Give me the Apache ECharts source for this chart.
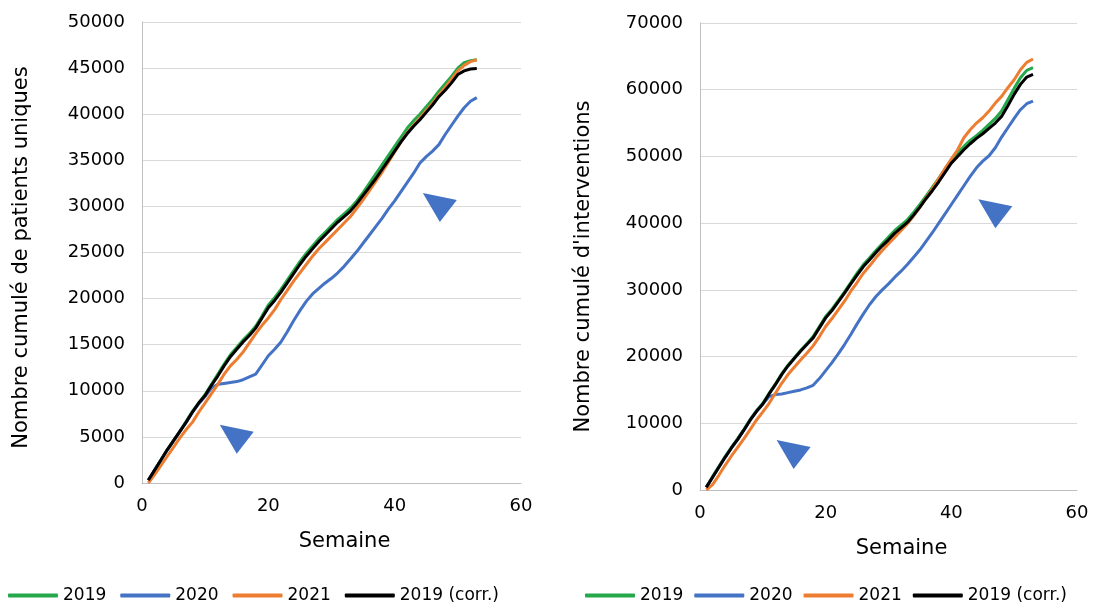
<!DOCTYPE html>
<html>
<head>
<meta charset="utf-8">
<script src="https://cdn.jsdelivr.net/npm/echarts@6/dist/echarts.min.js"></script>
<style>
  html, body { margin: 0; padding: 0; background: #fff; }
  #chart { width: 1110px; height: 602px; }
</style>
</head>
<body>
<div id="chart"></div>
<script>
// semaines 1..53
var weeks = [1,2,3,4,5,6,7,8,9,10,11,12,13,14,15,16,17,18,19,20,21,22,23,24,25,26,27,
  28,29,30,31,32,33,34,35,36,37,38,39,40,41,42,43,44,45,46,47,48,49,50,51,52,53];

var seriesNames = ['2019', '2020', '2021', '2019 (corr.)'];
var colors = ['#24a84a', '#4472c4', '#ed7d31', '#000000'];

// patients uniques (cumul)
var patients2019 = [300,1400,2500,3600,4600,5600,6700,7800,8700,9600,10700,11800,12900,13900,14700,
  15500,16200,17000,18100,19300,20100,21000,22000,23000,24000,24900,25700,26500,27200,27900,28600,
  29200,29800,30600,31500,32500,33500,34500,35500,36500,37500,38500,39300,40000,40800,41600,42500,
  43300,44100,45000,45600,45800,45900];
var patients2020 = [300,1400,2500,3600,4600,5600,6600,7700,8600,9400,10300,10700,10800,10900,11000,
  11200,11500,11800,12800,13800,14500,15300,16400,17600,18700,19700,20500,21100,21700,22200,22800,
  23500,24300,25100,26000,26900,27800,28700,29700,30600,31600,32600,33600,34700,35400,36000,36700,
  37800,38800,39800,40700,41400,41800];
var patients2021 = [0,900,1900,2900,3900,4900,5800,6600,7700,8700,9700,10700,11800,12700,13400,14200,
  15200,16200,17100,17900,18800,19900,20900,21900,22800,23700,24600,25400,26100,26800,27500,28200,
  28900,29800,30700,31700,32700,33700,34800,35900,37000,38000,38800,39600,40400,41200,42100,42900,
  43800,44700,45300,45700,45900];
var patients2019c = [300,1400,2500,3600,4600,5600,6600,7700,8700,9500,10600,11600,12700,13700,14500,
  15300,16000,16800,17900,19000,19800,20700,21700,22700,23700,24600,25400,26200,26900,27600,28300,
  28900,29500,30300,31200,32100,33000,34000,35000,36000,37000,37900,38700,39400,40200,41000,41900,
  42600,43400,44300,44700,44900,44950];

// interventions (cumul)
var interv2019 = [400,2000,3500,5000,6400,7700,9100,10600,11900,13000,14500,15900,17400,18700,19800,
  20900,21900,23000,24500,26000,27100,28400,29700,31100,32500,33800,34800,35900,36900,37900,38900,
  39700,40500,41600,42800,44100,45400,46700,48100,49500,50500,51500,52400,53100,53900,54800,55700,
  56800,58500,60200,61800,62900,63300];
var interv2020 = [400,1900,3400,4900,6300,7600,9000,10500,11800,12900,14000,14300,14400,14600,14800,
  15000,15300,15700,16700,17900,19100,20400,21800,23300,24900,26400,27800,29000,30000,30900,31900,
  32800,33800,34900,36000,37300,38600,40000,41400,42800,44200,45600,47000,48300,49300,50100,51300,
  52900,54300,55700,57000,57900,58300];
var interv2021 = [0,800,2200,3700,5100,6400,7700,9100,10500,11700,13000,14500,16000,17300,18400,
  19500,20500,21600,23000,24500,25700,27000,28300,29800,31100,32500,33600,34800,35900,36900,37900,
  38900,39900,41100,42400,43800,45200,46700,48200,49600,51000,52800,54000,55000,55800,56800,58000,
  59000,60300,61500,63000,64100,64600];
var interv2019c = [400,1900,3400,4900,6300,7600,9000,10500,11800,12900,14400,15800,17300,18600,19700,
  20800,21800,22800,24300,25800,26900,28200,29500,30900,32200,33500,34500,35600,36600,37500,38500,
  39300,40100,41200,42400,43700,44900,46200,47600,49000,50000,51000,51900,52700,53400,54200,55000,
  56000,57600,59300,60800,61900,62300];

// triangles (annotations) : [semaine, valeur]
var arrowsPatients = [[15, 4750], [47.15, 29880]];
var arrowsInterv = [[14.9, 5320], [47, 41400]];

var font = 'DejaVu Sans';
var triPath = 'path://M0,0 L34,7 L17,29 Z';

function pairs(vals) {
  return vals.map(function (v, i) { return [weeks[i], v]; });
}

function makeAxisX(idx) {
  return {
    type: 'value', gridIndex: idx, min: 0, max: 60, interval: 20,
    name: 'Semaine', nameLocation: 'middle', nameGap: 48,
    nameTextStyle: { fontFamily: font, fontSize: 21, color: '#000', padding: [0, 0, 0, 26] },
    axisLine: { show: true, lineStyle: { color: '#bfbfbf', width: 1 } },
    axisTick: { show: false },
    axisLabel: { fontFamily: font, fontSize: 18, color: '#000', margin: 14,
      formatter: function (v) { return String(v); } },
    splitLine: { show: false }
  };
}

function makeAxisY(idx, max, interval, name, gap, shift) {
  return {
    type: 'value', gridIndex: idx, min: 0, max: max, interval: interval,
    name: name, nameLocation: 'middle', nameGap: gap, nameRotate: 90,
    nameTextStyle: { fontFamily: font, fontSize: 21, color: '#000', padding: [0, shift, 0, 0] },
    axisLine: { show: true, lineStyle: { color: '#bfbfbf', width: 1 } },
    axisTick: { show: false },
    axisLabel: { fontFamily: font, fontSize: 18, color: '#000', margin: 17,
      formatter: function (v) { return String(v); } },
    splitLine: { show: true, lineStyle: { color: '#d9d9d9', width: 1 } }
  };
}

function makeSeries(name, color, vals, idx, arrows) {
  var s = {
    name: name, type: 'line', xAxisIndex: idx, yAxisIndex: idx,
    data: pairs(vals), showSymbol: false, symbol: 'none',
    lineStyle: { color: color, width: 3 },
    itemStyle: { color: color },
    animation: false
  };
  if (arrows) {
    s.markPoint = {
      symbol: triPath,
      symbolSize: [34, 29],
      label: { show: false },
      itemStyle: { color: '#4472c4' },
      data: arrows.map(function (a) { return { coord: a }; })
    };
  }
  return s;
}

var legendBase = {
  data: seriesNames,
  top: 582,
  itemWidth: 50,
  itemHeight: 4,
  itemGap: 14,
  icon: 'roundRect',
  textStyle: { fontFamily: font, fontSize: 17, color: '#000' }
};

var option = {
  animation: false,
  color: colors,
  grid: [
    { left: 142, right: 589, top: 22, bottom: 119 },
    { left: 700, right: 33, top: 23, bottom: 112 }
  ],
  legend: [
    Object.assign({}, legendBase, { left: 3 }),
    Object.assign({}, legendBase, { left: 580, itemGap: 11 })
  ],
  xAxis: [makeAxisX(0), makeAxisX(1)],
  yAxis: [
    makeAxisY(0, 50000, 5000, 'Nombre cumulé de patients uniques', 110, 10),
    makeAxisY(1, 70000, 10000, "Nombre cumulé d'interventions", 106, 20)
  ],
  series: [
    makeSeries('2019', colors[0], patients2019, 0),
    makeSeries('2020', colors[1], patients2020, 0, arrowsPatients),
    makeSeries('2021', colors[2], patients2021, 0),
    makeSeries('2019 (corr.)', colors[3], patients2019c, 0),
    makeSeries('2019', colors[0], interv2019, 1),
    makeSeries('2020', colors[1], interv2020, 1, arrowsInterv),
    makeSeries('2021', colors[2], interv2021, 1),
    makeSeries('2019 (corr.)', colors[3], interv2019c, 1)
  ]
};

var myChart = echarts.init(document.getElementById('chart'));
myChart.setOption(option);
</script>
</body>
</html>
